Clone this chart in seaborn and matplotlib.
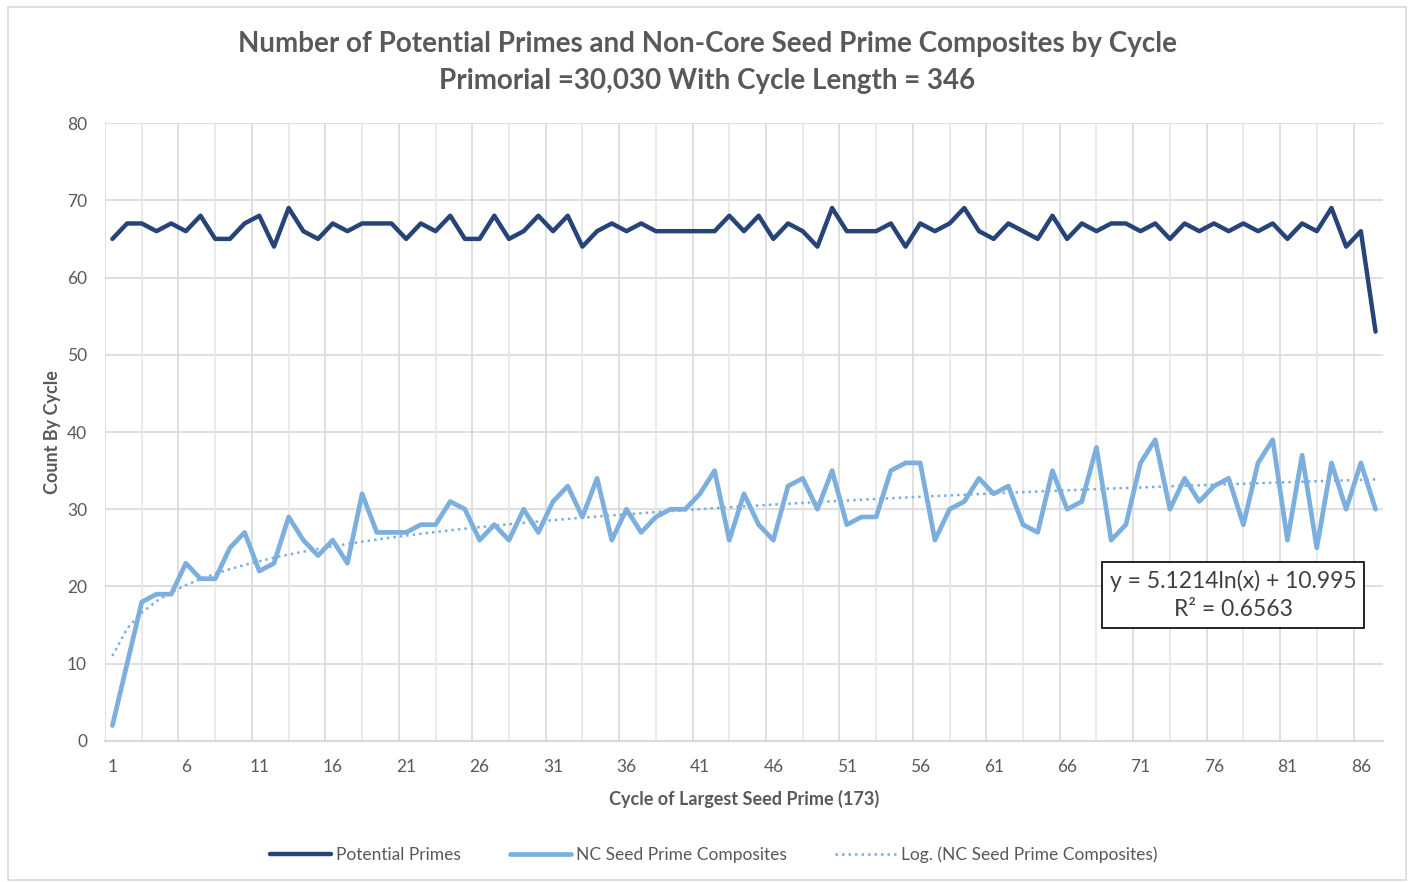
import numpy as np
import pandas as pd
import seaborn as sns
from matplotlib import pyplot as plt
from matplotlib.patches import Rectangle

sns.set_style('white')
plt.rcParams['font.family'] = ['Lato', 'DejaVu Sans']

# values, cycle 1..87
cycles = list(range(1, 88))
potential_primes = [65, 67, 67, 66, 67, 66, 68, 65, 65, 67, 68, 64, 69, 66, 65, 67, 66, 67, 67, 67,
                    65, 67, 66, 68, 65, 65, 68, 65, 66, 68, 66, 68, 64, 66, 67, 66, 67, 66, 66, 66,
                    66, 66, 68, 66, 68, 65, 67, 66, 64, 69, 66, 66, 66, 67, 64, 67, 66, 67, 69, 66,
                    65, 67, 66, 65, 68, 65, 67, 66, 67, 67, 66, 67, 65, 67, 66, 67, 66, 67, 66, 67,
                    65, 67, 66, 69, 64, 66, 53]
nc_composites = [2, 10, 18, 19, 19, 23, 21, 21, 25, 27, 22, 23, 29, 26, 24, 26, 23, 32, 27, 27,
                 27, 28, 28, 31, 30, 26, 28, 26, 30, 27, 31, 33, 29, 34, 26, 30, 27, 29, 30, 30,
                 32, 35, 26, 32, 28, 26, 33, 34, 30, 35, 28, 29, 29, 35, 36, 36, 26, 30, 31, 34,
                 32, 33, 28, 27, 35, 30, 31, 38, 26, 28, 36, 39, 30, 34, 31, 33, 34, 28, 36, 39,
                 26, 37, 25, 36, 30, 36, 30]

dark = '#264478'
light = '#7cafdd'
grey = '#595959'

df = pd.DataFrame({'cycle': cycles, 'pp': potential_primes, 'nc': nc_composites})

# log trendline fitted on the composites
slope, intercept = np.polyfit(np.log(df['cycle']), df['nc'], 1)
df['trend'] = slope * np.log(df['cycle']) + intercept

fig = plt.figure(figsize=(14.14, 8.82), dpi=100)
ax = fig.add_axes([0.0743, 0.1599, 0.9037, 0.7006])

sns.lineplot(data=df, x='cycle', y='pp', ax=ax, color=dark, lw=3.2, label='Potential Primes')
sns.lineplot(data=df, x='cycle', y='nc', ax=ax, color=light, lw=3.4, label='NC Seed Prime Composites')
sns.lineplot(data=df, x='cycle', y='trend', ax=ax, color=light, lw=1.8, ls=(0, (1, 1.6)),
             label='Log. (NC Seed Prime Composites)')

ax.set_xlim(0.5, 87.5)
ax.set_ylim(0, 80)
ax.set_yticks(range(0, 81, 10))
ax.set_xticks(range(1, 88, 5))

# gridlines
ax.grid(False)
for yv in range(10, 81, 10):
    ax.axhline(yv, color='#d9d9d9', lw=1.2, zorder=0)
for xv in np.arange(0.5, 88, 2.5):
    c = '#d9d9d9' if (xv - 0.5) % 5 == 0 else '#e6e6e6'
    ax.axvline(xv, color=c, lw=1.2, zorder=0)

for s in ['top', 'right', 'left']:
    ax.spines[s].set_visible(False)
ax.spines['bottom'].set_color('#d9d9d9')
ax.spines['bottom'].set_linewidth(1.5)
ax.tick_params(axis='both', which='both', length=0, labelsize=12.5, labelcolor=grey)
ax.tick_params(axis='x', pad=13)
ax.tick_params(axis='y', pad=13)

ax.set_xlabel('Cycle of Largest Seed Prime (173)', fontsize=13, fontweight='bold', color=grey, labelpad=11)
ax.set_ylabel('Count By Cycle', fontsize=13, fontweight='bold', color=grey, labelpad=4)

fig.text(0.5, 0.950, 'Number of Potential Primes and Non-Core Seed Prime Composites by Cycle',
         ha='center', va='center', fontsize=20, fontweight='bold', color=grey)
fig.text(0.5, 0.908, 'Primorial =30,030 With Cycle Length = 346',
         ha='center', va='center', fontsize=20, fontweight='bold', color=grey)

# equation box
ax.text(77.3, 18.9, 'y = 5.1214ln(x) + 10.995\nR² = 0.6563', ha='center', va='center',
        fontsize=16.5, color='#404040', linespacing=1.4,
        bbox=dict(boxstyle='square,pad=0.35', fc='white', ec='black', lw=1.2))

ax.get_legend().remove()
h, l = ax.get_legend_handles_labels()
fig.legend(h, l, loc='center', bbox_to_anchor=(0.505, 0.031), ncol=3, frameon=False,
           fontsize=12.5, labelcolor=grey, handlelength=3.5, handletextpad=0.3,
           columnspacing=2.8)

# outer chart border
fig.patches.append(Rectangle((0.006, 0.002), 0.988, 0.99, transform=fig.transFigure,
                             fill=False, ec='#d9d9d9', lw=1.2))

fig.savefig('out.png', dpi=100)
